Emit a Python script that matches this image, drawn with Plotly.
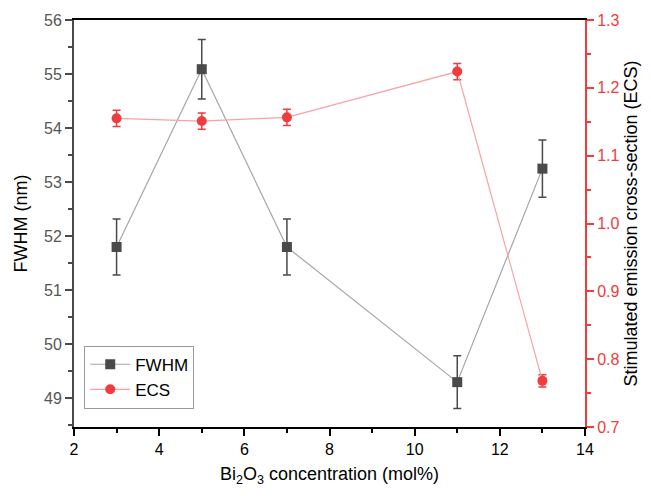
import plotly.graph_objects as go

x_vals = [3, 5, 7, 11, 13]
fwhm = [51.8, 55.09, 51.8, 49.3, 53.25]
fwhm_err = [0.52, 0.55, 0.52, 0.49, 0.53]
ecs = [1.155, 1.151, 1.1565, 1.224, 0.768]
ecs_err = [0.012, 0.012, 0.012, 0.012, 0.009]

FONT = "Liberation Sans, Arial, sans-serif"
GRAY = "#4a4a4a"
RED = "#f03c3c"

fig = go.Figure()
fig.add_trace(go.Scatter(
    x=x_vals, y=fwhm, name="FWHM", mode="lines+markers",
    line=dict(color="#a6a6a6", width=1.2),
    marker=dict(symbol="square", size=10, color=GRAY),
    error_y=dict(type="data", array=fwhm_err, color=GRAY, thickness=1.5, width=4),
    yaxis="y",
))
fig.add_trace(go.Scatter(
    x=x_vals, y=ecs, name="ECS", mode="lines+markers",
    line=dict(color="#f7a3a3", width=1.2),
    marker=dict(symbol="circle", size=10, color=RED),
    error_y=dict(type="data", array=ecs_err, color=RED, thickness=1.5, width=4),
    yaxis="y2",
))

fig.update_layout(
    width=651, height=496,
    margin=dict(l=74, r=66, t=15, b=69),
    paper_bgcolor="white", plot_bgcolor="white",
    font=dict(family=FONT, size=16, color="black"),
    showlegend=True,
    legend=dict(x=0.02, y=0.045, xanchor="left", yanchor="bottom",
                bordercolor="#999999", borderwidth=1, bgcolor="white",
                font=dict(size=17, color="black"), tracegroupgap=0,
                itemwidth=40),
    xaxis=dict(
        range=[2, 14], tickmode="linear", tick0=2, dtick=2,
        showgrid=False, zeroline=False,
        showline=True, linecolor="black", linewidth=2, mirror=True,
        ticks="outside", ticklen=7, tickwidth=1.5, tickcolor="black",
        minor=dict(ticks="outside", ticklen=4, dtick=1, tickcolor="black", tickwidth=1.5),
        tickfont=dict(size=16, color="black"),
        title=dict(text="Bi<sub>2</sub>O<sub>3</sub> concentration (mol%)",
                   font=dict(size=18, color="black"), standoff=10),
    ),
    yaxis=dict(
        range=[48.47, 56], tickmode="linear", tick0=49, dtick=1,
        showgrid=False, zeroline=False,
        showline=True, linecolor=GRAY, linewidth=2,
        ticks="outside", ticklen=7, tickwidth=1.5, tickcolor=GRAY,
        minor=dict(ticks="outside", ticklen=4, dtick=0.5, tickcolor=GRAY, tickwidth=1.5),
        tickfont=dict(size=16, color="#555555"),
        title=dict(text="FWHM (nm)", font=dict(size=18, color="black"), standoff=12),
    ),
    yaxis2=dict(
        range=[0.7, 1.3], tickmode="linear", tick0=0.7, dtick=0.1, tickformat=".1f",
        overlaying="y", side="right",
        showgrid=False, zeroline=False,
        showline=True, linecolor=RED, linewidth=2,
        ticks="outside", ticklen=7, tickwidth=1.5, tickcolor=RED,
        minor=dict(ticks="outside", ticklen=4, dtick=0.05, tickcolor=RED, tickwidth=1.5),
        tickfont=dict(size=16, color=RED),
        title=dict(text="Stimulated emission cross-section (ECS)",
                   font=dict(size=18, color="black"), standoff=6),
    ),
)

fig.write_html("out.html")
